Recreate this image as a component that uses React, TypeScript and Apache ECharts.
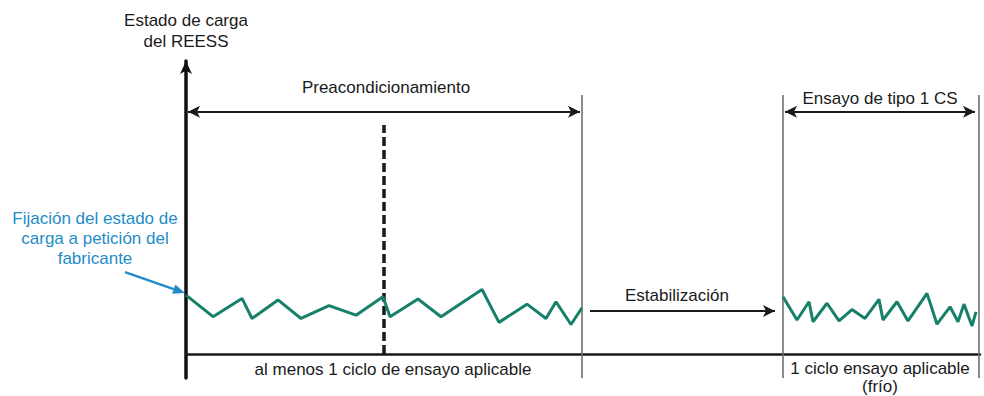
import { useEffect, useRef } from 'react';
import * as echarts from 'echarts';

// ---- Data (time units along x, state of charge units along y) ----
const preconditioningTime = [0, 27, 56, 66, 92, 115, 143, 170, 197, 204, 232, 255, 296, 313, 341, 360, 370, 385, 396];
const preconditioningSoc = [19.7, 12.5, 18.6, 11.9, 18.1, 11.9, 16.2, 13.0, 19.2, 12.5, 18.4, 12.5, 21.6, 10.6, 16.7, 11.9, 17.5, 9.9, 15.5];
const coldTestTime = [597, 611, 623, 627, 641, 653, 666, 679, 693, 697, 711, 722, 741, 751, 764, 772, 778, 786, 790];
const coldTestSoc = [19.2, 11.4, 17.5, 10.8, 17.0, 11.1, 14.9, 11.9, 18.3, 11.4, 17.5, 11.1, 20.3, 10.0, 15.8, 10.8, 16.7, 9.4, 14.1];

const phaseBoundaries = [396, 597, 793];
const cycleDivider = 198;

const axisTitle = 'Estado de carga\ndel REESS';
const phaseLabels = ['Preacondicionamiento', 'Estabilización', 'Ensayo de tipo 1 CS'];
const cycleLabels = ['al menos 1 ciclo de ensayo aplicable', '1 ciclo ensayo aplicable\n(frío)'];
const noteLabel = 'Fijación del estado de\ncarga a petición del\nfabricante';

// ---- Layout (data-space anchors for annotations) ----
const X_MIN = 0;
const X_MAX = 794;
const Y_MIN = -8;
const Y_MAX = 98;
const BOUNDARY_TOP = 86.6;
const DIVIDER_TOP = 76.6;
const SPAN_ARROW_Y = 81;
const STAB_ARROW_Y = 14.4;

const FONT = '"Liberation Sans", Arial, Helvetica, sans-serif';
const FONT_SIZE = 17;
const GREEN = '#17806a';
const BLUE = '#1f8cc8';
const INK = '#1a1a1a';

export default function App() {
  const ref = useRef<HTMLDivElement>(null);

  useEffect(() => {
    if (!ref.current) return;
    const chart = echarts.init(ref.current, null, { renderer: 'svg' });

    const grayLine = { color: '#707070', width: 1.6, type: 'solid' };
    const blackLine = { color: INK, width: 2, type: 'solid' };

    chart.setOption({
      animation: false,
      grid: { left: 186, right: 4, top: 61, bottom: 18 },
      xAxis: {
        type: 'value',
        min: X_MIN,
        max: X_MAX,
        axisLine: { show: true, onZero: true, lineStyle: { color: INK, width: 2.5 } },
        axisTick: { show: false },
        axisLabel: { show: false },
        splitLine: { show: false },
      },
      yAxis: {
        type: 'value',
        min: Y_MIN,
        max: Y_MAX,
        name: axisTitle,
        nameLocation: 'end',
        nameGap: 9,
        nameTextStyle: { fontFamily: FONT, fontSize: FONT_SIZE, color: INK, lineHeight: 21, align: 'center' },
        axisLine: {
          show: true,
          symbol: ['none', 'arrow'],
          symbolSize: [9, 13],
          lineStyle: { color: '#111', width: 3.5 },
        },
        axisTick: { show: false },
        axisLabel: { show: false },
        splitLine: { show: false },
      },
      series: [
        {
          type: 'line',
          name: 'Preacondicionamiento',
          data: preconditioningTime.map((t, i) => [t, preconditioningSoc[i]]),
          symbol: 'none',
          clip: false,
          lineStyle: { color: GREEN, width: 3 },
          z: 5,
          markLine: {
            silent: true,
            symbol: ['none', 'none'],
            symbolSize: [9, 12],
            label: { show: false },
            emphasis: { disabled: true },
            data: [
              ...phaseBoundaries.map((x) => [
                { coord: [x, Y_MIN], lineStyle: grayLine },
                { coord: [x, BOUNDARY_TOP] },
              ]),
              [
                { coord: [cycleDivider, 0], lineStyle: { color: INK, width: 3.5, type: [9, 4] } },
                { coord: [cycleDivider, DIVIDER_TOP] },
              ],
              [
                { coord: [2, SPAN_ARROW_Y], symbol: 'arrow', lineStyle: blackLine },
                { coord: [phaseBoundaries[0] - 2, SPAN_ARROW_Y], symbol: 'arrow' },
              ],
              [
                { coord: [phaseBoundaries[1] + 2, SPAN_ARROW_Y], symbol: 'arrow', lineStyle: blackLine },
                { coord: [phaseBoundaries[2] - 4, SPAN_ARROW_Y], symbol: 'arrow' },
              ],
              [
                { coord: [phaseBoundaries[0] + 8, STAB_ARROW_Y], symbol: 'none', lineStyle: blackLine },
                { coord: [phaseBoundaries[1] - 8, STAB_ARROW_Y], symbol: 'arrow' },
              ],
            ],
          },
        },
        {
          type: 'line',
          name: 'Ensayo de tipo 1 CS',
          data: coldTestTime.map((t, i) => [t, coldTestSoc[i]]),
          symbol: 'none',
          clip: false,
          lineStyle: { color: GREEN, width: 3 },
          z: 5,
        },
      ],
    });

    const px = (p: number[]) => chart.convertToPixel({ gridIndex: 0 }, p) as number[];

    const textAt = (text: string, at: number[], fill: string, lineHeight = 19) => {
      const [x, y] = px(at);
      return {
        type: 'text',
        x,
        y,
        silent: true,
        style: {
          text,
          fill,
          fontFamily: FONT,
          fontSize: FONT_SIZE,
          lineHeight,
          align: 'center',
          verticalAlign: 'middle',
        },
      };
    };

    // blue pointer arrow to the start of the curve
    const arrowFrom = px([-61, 27.4]);
    const arrowTo = px([-1, preconditioningSoc[0] + 0.7]);
    const dx = arrowTo[0] - arrowFrom[0];
    const dy = arrowTo[1] - arrowFrom[1];
    const len = Math.hypot(dx, dy);
    const ux = dx / len;
    const uy = dy / len;
    const headLen = 12;
    const headHalf = 5;
    const base = [arrowTo[0] - ux * headLen, arrowTo[1] - uy * headLen];

    chart.setOption({
      graphic: [
        textAt(phaseLabels[0], [200, 89], INK),
        textAt(phaseLabels[1], [491, 19.6], INK),
        textAt(phaseLabels[2], [694, 85.4], INK),
        textAt(cycleLabels[0], [207, -5], INK),
        textAt(cycleLabels[1], [694, -7.7], INK, 18),
        textAt(noteLabel, [-91, 38.8], BLUE, 20),
        {
          type: 'line',
          silent: true,
          shape: { x1: arrowFrom[0], y1: arrowFrom[1], x2: base[0], y2: base[1] },
          style: { stroke: BLUE, lineWidth: 2.5 },
        },
        {
          type: 'polygon',
          silent: true,
          shape: {
            points: [
              [arrowTo[0], arrowTo[1]],
              [base[0] - uy * headHalf, base[1] + ux * headHalf],
              [base[0] + uy * headHalf, base[1] - ux * headHalf],
            ],
          },
          style: { fill: BLUE },
        },
      ],
    });

    return () => chart.dispose();
  }, []);

  return (
    <div
      ref={ref}
      style={{ position: 'fixed', left: 0, top: 0, width: 984, height: 396, background: '#fff' }}
    />
  );
}
